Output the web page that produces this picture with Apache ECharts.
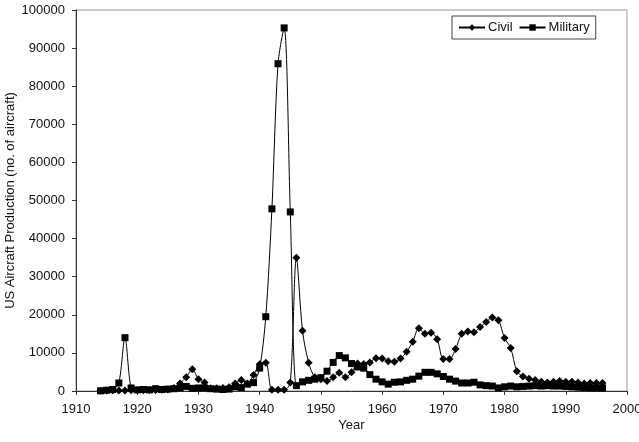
<!DOCTYPE html>
<html>
<head>
<meta charset="utf-8">
<script src="https://cdn.jsdelivr.net/npm/echarts@6/dist/echarts.min.js"></script>
<style>
  html, body { margin: 0; padding: 0; background: #fff; }
  #main { width: 639px; height: 442px; }
</style>
</head>
<body>
<div id="main"></div>
<script>
// years 1914..1996
var years = [];
for (var y = 1914; y <= 1996; y++) years.push(y);

var civil = [
  50, 100, 100, 100, 100, 200, 200, 200, 250, 250,          // 1914-1923
  300, 400, 800, 2000, 3600, 5700, 3100, 2200, 700, 700,    // 1924-1933
  800, 1000, 2000, 2900, 2000, 4200, 7000, 7400, 300, 300,  // 1934-1943
  300, 2200, 35000, 15800, 7400, 3600, 3100, 2600, 3600, 4800, // 1944-1953
  3600, 4900, 7200, 7100, 7500, 8600, 8500, 7800, 7700, 8500,  // 1954-1963
  10300, 12900, 16500, 15000, 15300, 13600, 8400, 8400, 11000, 15000, // 1964-1973
  15600, 15400, 16800, 18100, 19300, 18600, 13900, 11300, 5200, 3800, // 1974-1983
  3200, 2900, 2400, 2200, 2400, 2600, 2400, 2400, 2200, 2000, // 1984-1993
  2100, 2100, 2100                                             // 1994-1996
];

var military = [
  50, 200, 400, 2100, 14000, 800, 300, 400, 300, 600,       // 1914-1923
  400, 500, 600, 800, 1200, 700, 800, 800, 600, 500,        // 1924-1933
  400, 500, 1100, 900, 1800, 2200, 6000, 19500, 47800, 85900, // 1934-1943
  95300, 47000, 1400, 2400, 2800, 3100, 3500, 5200, 7500, 9300, // 1944-1953
  8700, 7200, 6300, 6000, 4300, 3100, 2400, 1800, 2300, 2400,  // 1954-1963
  2800, 3100, 3900, 4900, 4900, 4500, 3800, 3100, 2600, 2100,  // 1964-1973
  2100, 2300, 1600, 1400, 1300, 800, 1100, 1300, 1100, 1200,   // 1974-1983
  1300, 1400, 1300, 1400, 1300, 1300, 1200, 1100, 1000, 900,   // 1984-1993
  800, 800, 800                                                // 1994-1996
];

function pairs(vals) {
  return years.map(function (yr, i) { return [yr, vals[i]]; });
}

var font = 'Liberation Sans, Arial, sans-serif';
var chart = echarts.init(document.getElementById('main'));

chart.setOption({
  animation: false,
  backgroundColor: '#fff',
  grid: {
    left: 76, right: 12, top: 10, bottom: 51,
    outerBoundsMode: 'none', containLabel: false,
    show: true, borderColor: '#999', borderWidth: 1
  },
  legend: {
    left: 452, top: 16,
    padding: [5, 6, 5, 6],
    borderColor: '#444', borderWidth: 1,
    itemWidth: 26, itemHeight: 8, itemGap: 6,
    textStyle: { fontFamily: font, fontSize: 13, color: '#111', padding: [0, 0, 0, -2] },
    data: ['Civil', 'Military']
  },
  xAxis: {
    type: 'value', min: 1910, max: 2000, interval: 10,
    name: 'Year', nameLocation: 'middle', nameGap: 28, nameMoveOverlap: false,
    nameTextStyle: { fontFamily: font, fontSize: 13, color: '#111' },
    axisLine: { lineStyle: { color: '#333', width: 1 } },
    axisTick: { show: true, length: 4, lineStyle: { color: '#333' } },
    axisLabel: { fontFamily: font, fontSize: 13, color: '#111', margin: 12,
      formatter: function (v) { return String(v); } },
    splitLine: { show: false }
  },
  yAxis: {
    type: 'value', min: 0, max: 100000, interval: 10000,
    name: 'US Aircraft Production (no. of aircraft)', nameLocation: 'middle',
    nameGap: 59, nameMoveOverlap: false,
    nameTextStyle: { fontFamily: font, fontSize: 13, color: '#111' },
    axisLine: { show: true, lineStyle: { color: '#333', width: 1 } },
    axisTick: { show: true, length: 4, lineStyle: { color: '#333' } },
    axisLabel: { fontFamily: font, fontSize: 13, color: '#111', margin: 11,
      formatter: function (v) { return String(v); } },
    splitLine: { show: false }
  },
  series: [
    {
      name: 'Civil', type: 'line', data: pairs(civil),
      smooth: 0.3, symbol: 'diamond', symbolSize: 8,
      itemStyle: { color: '#000' },
      lineStyle: { color: '#000', width: 1 }
    },
    {
      name: 'Military', type: 'line', data: pairs(military),
      smooth: 0.3, symbol: 'rect', symbolSize: 7,
      itemStyle: { color: '#000' },
      lineStyle: { color: '#000', width: 1 }
    }
  ]
});
</script>
</body>
</html>
